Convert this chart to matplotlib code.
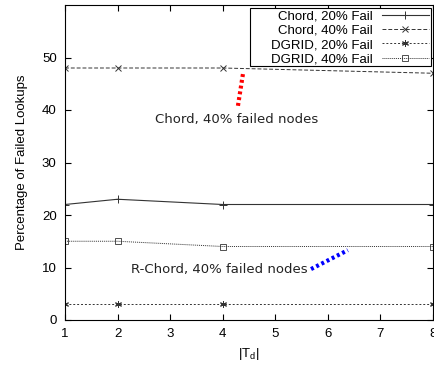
import matplotlib
matplotlib.use("Agg")
import matplotlib.pyplot as plt
from matplotlib.patches import Rectangle

plt.rcParams['font.family'] = ['Liberation Sans', 'DejaVu Sans']

# x values (|T_d|) and failure percentages
td = [1, 2, 4, 8]
chord_20 = [22, 23, 22, 22]
chord_40 = [48, 48, 48, 47]
dgrid_20 = [3, 3, 3, 3]
dgrid_40 = [15, 15, 14, 14]

labels = ["Chord, 20% Fail", "Chord, 40% Fail", "DGRID, 20% Fail", "DGRID, 40% Fail"]
xticks = [1, 2, 3, 4, 5, 6, 7, 8]
yticks = [0, 10, 20, 30, 40, 50]

fs = 9.5
fig = plt.figure(figsize=(4.34, 3.67), dpi=100)
ax = fig.add_axes([65 / 434, 47 / 367, 368 / 434, 315 / 367])

lc = '#333333'
ax.plot(td, chord_20, color=lc, lw=0.8, ls='-', marker='+', ms=6, mew=0.7, label=labels[0])
ax.plot(td, chord_40, color=lc, lw=0.7, ls=(0, (4, 2)), marker='x', ms=4, mew=0.7, label=labels[1])
ax.plot(td, dgrid_20, color=lc, lw=0.7, ls=(0, (2, 2)), marker=(6, 2, 0), ms=5, mew=0.7, label=labels[2])
ax.plot(td, dgrid_40, color=lc, lw=0.7, ls=(0, (1, 1)), marker='s', ms=4, mew=0.6,
        mfc='none', label=labels[3])

# annotations
ax.plot([4.29, 4.39], [40.8, 47.2], color='red', lw=3, ls=(0, (0.7, 0.7)))
ax.text(2.71, 38.1, "Chord, 40% failed nodes", fontsize=fs, va='center', ha='left',
        family='DejaVu Sans', color='#222222')
ax.plot([5.68, 6.38], [9.7, 13.3], color='blue', lw=3, ls=(0, (0.7, 0.7)))
ax.text(5.62, 9.7, "R-Chord, 40% failed nodes", fontsize=fs, va='center', ha='right',
        family='DejaVu Sans', color='#222222')

ax.set_xlim(1, 8)
ax.set_ylim(0, 60)
ax.set_xticks(xticks)
ax.set_yticks(yticks)
ax.tick_params(direction='in', top=True, right=True, labelsize=fs, length=4, pad=6)
for s in ax.spines.values():
    s.set_linewidth(0.8)

ax.set_xlabel(r"|T$_\mathregular{d}$|", fontsize=fs)
ax.set_ylabel("Percentage of Failed Lookups", fontsize=fs, labelpad=10)

# gnuplot-style key: wide box, right-aligned labels, samples on the right
box = Rectangle((0.503, 0.806), 0.492, 0.184, transform=ax.transAxes,
                facecolor='white', edgecolor='black', lw=0.8, zorder=4)
ax.add_patch(box)
leg = ax.legend(loc='upper right', bbox_to_anchor=(0.995, 0.99), markerfirst=False,
                fontsize=fs, frameon=False, borderaxespad=0.0, handlelength=3.6,
                labelspacing=0.16, borderpad=0.15, handletextpad=0.7)
leg.set_zorder(5)
for t in leg.get_texts():
    t.set_ha('right')
leg._legend_box.align = 'right'

fig.savefig("out.png", dpi=100)
